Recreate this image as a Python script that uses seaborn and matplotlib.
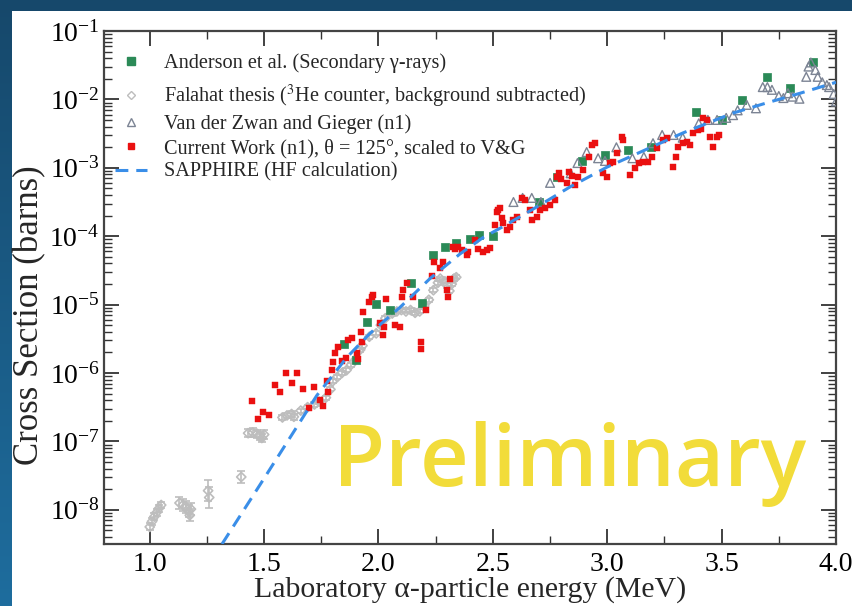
import numpy as np
import pandas as pd
import matplotlib
matplotlib.use("Agg")
import matplotlib.pyplot as plt
from matplotlib.lines import Line2D
from matplotlib.patches import Rectangle
from matplotlib.colors import LinearSegmentedColormap
from matplotlib.ticker import LogLocator, MultipleLocator, NullFormatter
import seaborn as sns

# ---- data: alpha energy (MeV) and log10 of cross section (barns) ----
anderson_E = [1.85, 1.90, 1.95, 1.99, 2.05, 2.14, 2.19, 2.24, 2.29, 2.34, 2.40, 2.44, 2.50,
              2.70, 2.78, 2.89, 2.99, 3.09, 3.19, 3.39, 3.50, 3.59, 3.70, 3.80, 3.90]
anderson_log10 = [-5.57, -5.81, -5.25, -4.99, -5.08, -4.68, -4.98, -4.27, -4.16, -4.10, -4.04, -3.98, -4.00,
                  -3.50, -3.13, -2.90, -2.81, -2.74, -2.70, -2.19, -2.30, -2.01, -1.67, -1.83, -1.45]

falahat_E = [1.00, 1.01, 1.02, 1.03, 1.04, 1.05,
             1.13, 1.145, 1.16, 1.17, 1.175, 1.18,
             1.255, 1.26, 1.40,
             1.43, 1.45, 1.47, 1.48, 1.49, 1.50,
             1.58, 1.60, 1.62, 1.63,
             1.66, 1.69, 1.72, 1.74, 1.77, 1.79, 1.80, 1.82, 1.84, 1.86,
             1.88, 1.90, 1.92, 1.93, 1.96, 1.99, 2.01, 2.03, 2.06, 2.08,
             2.10, 2.12, 2.14, 2.16, 2.18, 2.20, 2.22, 2.24, 2.26, 2.27,
             2.29, 2.30, 2.31, 2.32, 2.33, 2.34]
falahat_log10 = [-8.25, -8.17, -8.10, -8.04, -7.98, -7.93,
                 -7.90, -7.93, -7.96, -8.02, -8.08, -7.99,
                 -7.72, -7.82, -7.52,
                 -6.88, -6.87, -6.89, -6.92, -6.95, -6.90,
                 -6.65, -6.62, -6.60, -6.64,
                 -6.55, -6.50, -6.46, -6.42, -6.36, -6.24, -6.12, -6.06, -6.00, -5.96,
                 -5.88, -5.80, -5.66, -5.60, -5.47, -5.42, -5.30, -5.20, -5.13, -5.10,
                 -5.08, -5.10, -5.08, -5.12, -5.10, -5.02, -4.93, -4.79, -4.68, -4.62,
                 -4.66, -4.72, -4.80, -4.70, -4.62, -4.60]
# uncertainty half-width in decades
falahat_err = [0.05, 0.05, 0.05, 0.05, 0.05, 0.05,
               0.09, 0.09, 0.09, 0.09, 0.09, 0.09,
               0.15, 0.15, 0.09,
               0.06, 0.06, 0.06, 0.06, 0.06, 0.06,
               0.04, 0.04, 0.04, 0.04,
               0.03, 0.03, 0.03, 0.03, 0.03, 0.03, 0.03, 0.03, 0.03, 0.03,
               0.03, 0.03, 0.03, 0.03, 0.03, 0.03, 0.03, 0.03, 0.03, 0.03,
               0.03, 0.03, 0.03, 0.03, 0.03, 0.03, 0.03, 0.03, 0.03, 0.03,
               0.03, 0.03, 0.03, 0.03, 0.03, 0.03]

vdz_E = [2.59, 2.63, 2.67, 2.71, 2.75, 2.84, 2.87, 2.91, 2.96, 2.99, 3.04, 3.11, 3.16, 3.20,
         3.24, 3.29, 3.33, 3.40, 3.44, 3.48, 3.52, 3.55, 3.57, 3.61, 3.65, 3.68, 3.70, 3.72,
         3.75, 3.77, 3.79, 3.81, 3.84, 3.87, 3.88, 3.89, 3.91, 3.92, 3.94, 3.96, 3.97, 3.99, 4.00]
vdz_log10 = [-3.50, -3.44, -3.44, -3.50, -3.22, -3.08, -2.93, -2.77, -2.86, -2.90, -2.70, -2.86, -2.84, -2.64,
             -2.52, -2.52, -2.56, -2.35, -2.30, -2.30, -2.27, -2.23, -2.16, -2.08, -2.13, -1.82, -1.82, -1.86,
             -1.95, -1.98, -1.91, -1.96, -1.99, -1.67, -1.52, -1.46, -1.57, -1.67, -1.75, -1.79, -1.82, -1.92, -2.03]

current_E = [1.447, 1.473, 1.495, 1.521, 1.547, 1.569, 1.596, 1.622, 1.644, 1.670, 1.696, 1.718, 1.744,
             1.757, 1.775, 1.779, 1.797, 1.800, 1.810, 1.823, 1.840, 1.858, 1.867, 1.884, 1.906, 1.910,
             1.924, 1.928, 1.932, 1.958, 1.970, 1.976, 2.007, 2.020, 2.024, 2.033, 2.072, 2.094, 2.103,
             2.107, 2.125, 2.151, 2.186, 2.186, 2.208, 2.234, 2.243, 2.269, 2.282, 2.299, 2.304, 2.313,
             2.326, 2.334, 2.348, 2.365, 2.387, 2.391, 2.420, 2.435, 2.457, 2.474, 2.487, 2.509, 2.518,
             2.522, 2.531, 2.540, 2.544, 2.560, 2.575, 2.588, 2.605, 2.627, 2.640, 2.662, 2.671, 2.693,
             2.706, 2.728, 2.750, 2.772, 2.780, 2.789, 2.800, 2.824, 2.832, 2.845, 2.858, 2.872, 2.894,
             2.920, 2.933, 2.946, 2.981, 2.999, 3.012, 3.025, 3.042, 3.064, 3.069, 3.099, 3.121, 3.140,
             3.155, 3.178, 3.196, 3.218, 3.244, 3.261, 3.287, 3.300, 3.309, 3.331, 3.348, 3.361, 3.375,
             3.396, 3.410, 3.420, 3.436, 3.449, 3.462, 3.480, 3.489]
current_log10 = [-6.41, -6.67, -6.57, -6.61, -6.18, -6.28, -6.00, -6.15, -6.00, -6.23, -6.51, -6.20, -6.39,
                 -6.48, -6.12, -6.28, -5.96, -5.84, -5.71, -5.62, -5.82, -5.78, -5.52, -5.49, -5.71, -5.80,
                 -5.40, -5.55, -5.11, -4.96, -4.89, -4.86, -5.27, -5.44, -5.33, -4.92, -5.30, -5.33, -4.89,
                 -4.79, -4.68, -4.89, -5.55, -5.65, -5.08, -4.58, -4.38, -4.47, -4.38, -4.79, -4.89, -4.62,
                 -4.16, -4.19, -4.16, -4.20, -4.27, -4.23, -4.06, -4.19, -4.23, -4.20, -4.17, -3.84, -3.65,
                 -3.62, -3.59, -3.73, -3.81, -3.91, -3.87, -3.76, -3.72, -3.44, -3.47, -3.62, -3.76, -3.72,
                 -3.62, -3.59, -3.54, -3.47, -3.13, -3.08, -3.16, -3.22, -3.06, -3.12, -3.25, -3.13, -3.03,
                 -2.84, -2.67, -2.64, -3.08, -3.13, -2.93, -2.91, -2.78, -2.55, -2.59, -3.11, -3.00, -2.93,
                 -2.92, -2.92, -2.84, -2.71, -2.59, -2.57, -2.99, -2.84, -2.70, -2.64, -2.62, -2.67, -2.49,
                 -2.45, -2.43, -2.27, -2.30, -2.55, -2.70, -2.55, -2.52]

sapphire_E = [1.316, 1.50, 1.73, 1.862, 1.963, 2.094, 2.225, 2.356, 2.457, 2.544, 2.693,
              2.837, 2.999, 3.331, 3.550, 3.698, 3.843, 4.00]
sapphire_log10 = [-8.50, -7.54, -6.33, -5.77, -5.42, -5.04, -4.62, -4.26, -4.02, -3.86, -3.57,
                  -3.28, -2.99, -2.49, -2.20, -2.05, -1.91, -1.75]

legend_labels = [
    "Anderson et al. (Secondary \u03b3-rays)",
    "Falahat thesis ($^{3}$He counter, background subtracted)",
    "Van der Zwan and Gieger (n1)",
    "Current Work (n1), \u03b8 = 125\u00b0, scaled to V&G",
    "SAPPHIRE (HF calculation)",
]
x_label = "Laboratory \u03b1-particle energy (MeV)"
y_label = "Cross Section (barns)"
stamp = "Preliminary"


def frame(E, lg):
    return pd.DataFrame({"E": np.asarray(E, float), "sigma": 10.0 ** np.asarray(lg, float)})


anderson = frame(anderson_E, anderson_log10)
falahat = frame(falahat_E, falahat_log10)
vdz = frame(vdz_E, vdz_log10)
current = frame(current_E, current_log10)
sapphire = frame(sapphire_E, sapphire_log10)

GREEN = "#2b8a57"
GRAY = "#bdbdbd"
SLATE = "#7c8494"
RED = "#ea1010"
BLUE = "#3a8ee8"

sns.set_style("ticks")
plt.rcParams["font.family"] = ["Liberation Serif", "DejaVu Serif"]
plt.rcParams["mathtext.fontset"] = "stix"

W, H = 853, 606
fig = plt.figure(figsize=(W / 100, H / 100), dpi=100)

# slide backdrop: blue gradient with a white panel
bg = fig.add_axes([0, 0, 1, 1], zorder=-10)
cmap = LinearSegmentedColormap.from_list("slide", ["#16486b", "#1e6d9e"])
bg.imshow(np.linspace(0, 1, 256).reshape(-1, 1), aspect="auto", cmap=cmap,
          extent=[0, 1, 0, 1], origin="upper")
bg.set_axis_off()
fig.patches.append(Rectangle((12 / W, 0), 1, 1 - 11 / H, transform=fig.transFigure,
                             facecolor="white", edgecolor="none", zorder=-5))

AX_L, AX_R, AX_T, AX_B = 104, 836, 31, 544
ax = fig.add_axes([AX_L / W, 1 - AX_B / H, (AX_R - AX_L) / W, (AX_B - AX_T) / H])
ax.set_facecolor("white")

# Falahat uncertainties
lo = falahat["sigma"] - 10.0 ** (np.asarray(falahat_log10) - np.asarray(falahat_err))
hi = 10.0 ** (np.asarray(falahat_log10) + np.asarray(falahat_err)) - falahat["sigma"]
ax.errorbar(falahat["E"], falahat["sigma"], yerr=[lo, hi], fmt="none", ecolor=GRAY,
            elinewidth=1.2, capsize=3, capthick=1.2, zorder=1)
sns.scatterplot(data=falahat, x="E", y="sigma", ax=ax, marker="D", s=22,
                facecolors="none", edgecolor=GRAY, linewidth=1.2, legend=False, zorder=2)
sns.scatterplot(data=anderson, x="E", y="sigma", ax=ax, marker="s", s=34,
                color=GREEN, edgecolor=GREEN, linewidth=0.5, legend=False, zorder=3)
sns.scatterplot(data=vdz, x="E", y="sigma", ax=ax, marker="^", s=40,
                facecolors="none", edgecolor=SLATE, linewidth=1.0, legend=False, zorder=3)
sns.scatterplot(data=current, x="E", y="sigma", ax=ax, marker="s", s=14,
                color=RED, edgecolor=RED, linewidth=0.3, legend=False, zorder=4)
sns.lineplot(data=sapphire, x="E", y="sigma", ax=ax, color=BLUE, lw=2.2,
             dashes=False, sort=False, estimator=None, zorder=5)
ax.lines[-1].set_dashes((4.2, 2.6))

ax.set_yscale("log")
ax.set_xlim(0.8, 4.0)
ax.set_ylim(10 ** -8.5, 1e-1)
ax.xaxis.set_major_locator(MultipleLocator(0.5))
ax.xaxis.set_minor_locator(MultipleLocator(0.25))
ax.yaxis.set_major_locator(LogLocator(base=10, numticks=20))
ax.yaxis.set_minor_locator(LogLocator(base=10, subs=np.arange(2, 10), numticks=20))
ax.yaxis.set_minor_formatter(NullFormatter())

ax.tick_params(which="both", direction="in", top=True, right=True, colors="#333333",
               labelcolor="black", labelsize=20)
ax.tick_params(which="major", length=11, width=1.3)
ax.tick_params(which="minor", length=5.5, width=1.0)
ax.tick_params(axis="x", which="major", pad=6)
ax.tick_params(axis="y", which="major", pad=3)
for s in ax.spines.values():
    s.set_color("#444444")
    s.set_linewidth(1.6)

ax_w, ax_h = AX_R - AX_L, AX_B - AX_T
ax.set_xlabel(x_label, fontsize=21.5)
ax.xaxis.set_label_coords(0.5, (AX_B - 576) / ax_h)
ax.set_ylabel(y_label, fontsize=25)
ax.yaxis.set_label_coords((46 - AX_L) / ax_w, (AX_B - 315) / ax_h)

handles = [
    Line2D([], [], ls="none", marker="s", ms=5.5, mfc=GREEN, mec=GREEN),
    Line2D([], [], ls="none", marker="D", ms=4, mfc="none", mec=GRAY, mew=1.0),
    Line2D([], [], ls="none", marker="^", ms=5.5, mfc="none", mec=SLATE, mew=1.0),
    Line2D([], [], ls="none", marker="s", ms=4, mfc=RED, mec=RED),
    Line2D([], [], ls="--", color=BLUE, lw=2.2, dashes=(4.2, 2.6)),
]
legend_kw = dict(loc="upper left", frameon=False, fontsize=14.6, handlelength=1.6,
                 handletextpad=0.8, borderpad=0, borderaxespad=0, labelspacing=0.22)
# first entry on its own, the rest in a second block below the superscripted row
leg_top = ax.legend(handles[:1], legend_labels[:1],
                    bbox_to_anchor=(11 / ax_w, 1 - 22 / ax_h), **legend_kw)
ax.add_artist(leg_top)
ax.legend(handles[1:], legend_labels[1:],
          bbox_to_anchor=(11 / ax_w, 1 - 52 / ax_h), **legend_kw)

fig.text(333 / W, 1 - 486 / H, stamp, fontfamily=["Open Sans", "DejaVu Sans"],
         fontweight="semibold", fontsize=61, color="#f2dc3a", ha="left", va="baseline",
         zorder=20)

fig.savefig("out.png", dpi=100)
